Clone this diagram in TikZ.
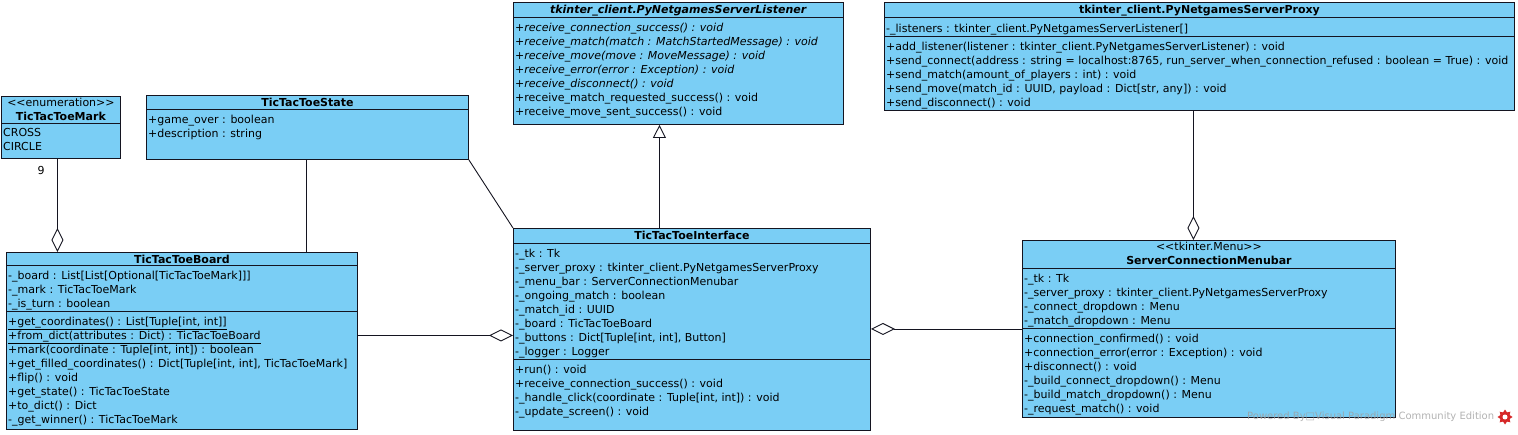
\documentclass[tikz,border=0pt]{standalone}
\usepackage{fontspec}
\setmainfont{DejaVu Sans}
\usepackage{tikz}
\usetikzlibrary{arrows.meta,shapes.geometric}
\definecolor{vp blue}{RGB}{122,206,245}
\definecolor{vp line}{RGB}{20,20,32}
\definecolor{vp red}{RGB}{214,40,40}
\newcommand{\umlfont}{\fontsize{11}{14}\selectfont}
\newcommand{\stereo}[1]{<\kern0pt<#1>\kern0pt>}

\tikzset{
  classbox/.style={draw=vp line, fill=vp blue, line width=0.9pt, anchor=north west, inner sep=0pt},
  hdr/.style={anchor=north, inner xsep=2pt, inner ysep=1.5pt, align=center, font=\umlfont, execute at begin node=\strut},
  members/.style={anchor=north west, inner xsep=2pt, inner ysep=5.5pt, align=left, font=\umlfont, execute at begin node=\strut},
  sep/.style={draw=vp line, line width=0.9pt},
  assoc/.style={draw=vp line, line width=0.9pt},
  aggr/.style={assoc, -{Diamond[open,length=24pt,width=12pt]}},
  gen/.style={assoc, -{Triangle[open,length=13pt,width=13pt]}}
}

\begin{document}
\begin{tikzpicture}[x=1pt, y=-1pt]
		\useasboundingbox (0,0) rectangle (1518,434);
		% TicTacToeMark
		\node[classbox, minimum width=119pt, minimum height=62pt] (mark) at (1,96) {};
		\draw[sep] (mark.west |- 0,123) -- (mark.east |- 0,123);
		\node[hdr] (mark-hdr) at (mark.north) {\stereo{enumeration}\\\textbf{TicTacToeMark}};
		\node[members] (mark-attr) at (mark.west |- 0,123) {CROSS\\CIRCLE};
		% TicTacToeState
		\node[classbox, minimum width=322pt, minimum height=64pt] (state) at (146,95) {};
		\draw[sep] (state.west |- 0,109) -- (state.east |- 0,109);
		\node[hdr] (state-hdr) at (state.north) {\textbf{TicTacToeState}};
		\node[members] (state-attr) at (state.west |- 0,109) {+game\_over : boolean\\+description : string};
		% TicTacToeBoard
		\node[classbox, minimum width=351pt, minimum height=177pt] (board) at (6,252) {};
		\draw[sep] (board.west |- 0,265) -- (board.east |- 0,265)
			(board.west |- 0,311) -- (board.east |- 0,311);
		\node[hdr] (board-hdr) at (board.north) {\textbf{TicTacToeBoard}};
		\node[members] (board-attr) at (board.west |- 0,265) {-\_board : List[List[Optional[TicTacToeMark]]]\\-\_mark : TicTacToeMark\\-\_is\_turn : boolean};
		\node[members] (board-ops) at (board.west |- 0,311) {\underline{+get\_coordinates() : List[Tuple[int, int]]}\\\underline{+from\_dict(attributes : Dict) : TicTacToeBoard}\\+mark(coordinate : Tuple[int, int]) : boolean\\+get\_filled\_coordinates() : Dict[Tuple[int, int], TicTacToeMark]\\+flip() : void\\+get\_state() : TicTacToeState\\+to\_dict() : Dict\\-\_get\_winner() : TicTacToeMark};
		% PyNetgamesServerListener
		\node[classbox, minimum width=330pt, minimum height=122pt] (listener) at (513,2) {};
		\draw[sep] (listener.west |- 0,17) -- (listener.east |- 0,17);
		\node[hdr] (listener-hdr) at (listener.north) {\textbf{\textit{tkinter\_client.PyNetgamesServerListener}}};
		\node[members] (listener-ops) at (listener.west |- 0,17) {\textit{+receive\_connection\_success() : void}\\\textit{+receive\_match(match : MatchStartedMessage) : void}\\\textit{+receive\_move(move : MoveMessage) : void}\\\textit{+receive\_error(error : Exception) : void}\\\textit{+receive\_disconnect() : void}\\+receive\_match\_requested\_success() : void\\+receive\_move\_sent\_success() : void};
		% PyNetgamesServerProxy
		\node[classbox, minimum width=630pt, minimum height=108pt] (proxy) at (884,2) {};
		\draw[sep] (proxy.west |- 0,17) -- (proxy.east |- 0,17)
			(proxy.west |- 0,36) -- (proxy.east |- 0,36);
		\node[hdr] (proxy-hdr) at (proxy.north) {\textbf{tkinter\_client.PyNetgamesServerProxy}};
		\node[members] (proxy-attr) at (proxy.west |- 0,17) {-\_listeners : tkinter\_client.PyNetgamesServerListener[]};
		\node[members] (proxy-ops) at (proxy.west |- 0,36) {+add\_listener(listener : tkinter\_client.PyNetgamesServerListener) : void\\+send\_connect(address : string = localhost:8765, run\_server\_when\_connection\_refused : boolean = True) : void\\+send\_match(amount\_of\_players : int) : void\\+send\_move(match\_id : UUID, payload : Dict[str, any]) : void\\+send\_disconnect() : void};
		% TicTacToeInterface
		\node[classbox, minimum width=357pt, minimum height=202pt] (iface) at (513,228) {};
		\draw[sep] (iface.west |- 0,243) -- (iface.east |- 0,243)
			(iface.west |- 0,359) -- (iface.east |- 0,359);
		\node[hdr] (iface-hdr) at (iface.north) {\textbf{TicTacToeInterface}};
		\node[members] (iface-attr) at (iface.west |- 0,243) {-\_tk : Tk\\-\_server\_proxy : tkinter\_client.PyNetgamesServerProxy\\-\_menu\_bar : ServerConnectionMenubar\\-\_ongoing\_match : boolean\\-\_match\_id : UUID\\-\_board : TicTacToeBoard\\-\_buttons : Dict[Tuple[int, int], Button]\\-\_logger : Logger};
		\node[members] (iface-ops) at (iface.west |- 0,359) {+run() : void\\+receive\_connection\_success() : void\\-\_handle\_click(coordinate : Tuple[int, int]) : void\\-\_update\_screen() : void};
		% ServerConnectionMenubar
		\node[classbox, minimum width=373pt, minimum height=177pt] (menubar) at (1022,240) {};
		\draw[sep] (menubar.west |- 0,268) -- (menubar.east |- 0,268)
			(menubar.west |- 0,328) -- (menubar.east |- 0,328);
		\node[hdr] (menubar-hdr) at (menubar.north) {\stereo{tkinter.Menu}\\\textbf{ServerConnectionMenubar}};
		\node[members] (menubar-attr) at (menubar.west |- 0,268) {-\_tk : Tk\\-\_server\_proxy : tkinter\_client.PyNetgamesServerProxy\\-\_connect\_dropdown : Menu\\-\_match\_dropdown : Menu};
		\node[members] (menubar-ops) at (menubar.west |- 0,328) {+connection\_confirmed() : void\\+connection\_error(error : Exception) : void\\+disconnect() : void\\-\_build\_connect\_dropdown() : Menu\\-\_build\_match\_dropdown() : Menu\\-\_request\_match() : void};
		% relations
		\draw[aggr] ([xshift=-3.5pt]mark.south) -- ([xshift=-3.5pt]mark.south |- board.north);
		\node[font=\umlfont] (mark-mult) at (41,170) {9};
		\draw[assoc] ([xshift=-1pt]state.south) -- ([xshift=-1pt]state.south |- board.north);
		\draw[assoc] (state.south east) -- (iface.north west);
		\draw[gen] ([xshift=-32.5pt]iface.north) -- ([xshift=-32.5pt]iface.north |- listener.south);
		\draw[aggr] ([yshift=5.5pt]board.east) -- ([yshift=5.5pt]board.east -| iface.west);
		\draw[aggr] (menubar.west) -- (menubar.west -| iface.east);
		\draw[aggr] ([xshift=-6pt]proxy.south) -- ([xshift=-6pt]proxy.south |- menubar.north);
		% watermark
		\node[anchor=west, inner sep=0pt, font=\fontsize{10}{11}\selectfont, text=gray!75, opacity=0.8] (vp-mark) at (1247,417) {Powered By□Visual Paradigm Community Edition};
		\node[star, star points=8, star point ratio=1.5, fill=vp red, minimum size=15pt, inner sep=0pt] (vp-logo) at (1505,417) {};
		\fill[white] (vp-logo.center) circle (2.5pt);
	\end{tikzpicture}
\end{document}
